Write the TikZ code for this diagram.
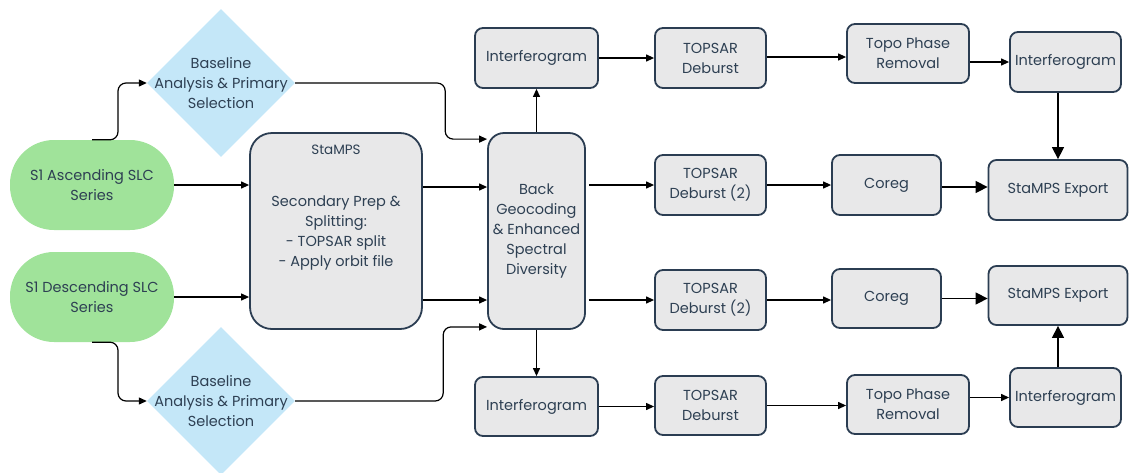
\documentclass[tikz,border=0pt]{standalone}
\usepackage{fontspec}
\setmainfont{Poppins}
\usetikzlibrary{shapes.geometric,arrows.meta,calc}
\definecolor{bordc}{HTML}{2B3D52}
\definecolor{boxf}{HTML}{E8E8E9}
\definecolor{greenf}{HTML}{A0E39A}
\definecolor{bluef}{HTML}{C4E7F8}
\definecolor{txtc}{HTML}{2E4053}
\tikzset{
  lbl/.style={text=txtc, font=\fontsize{14.5}{20}\selectfont, align=center, inner sep=0pt},
  procbox/.style={lbl, rectangle, rounded corners=8pt, draw=bordc, line width=1.8pt, fill=boxf},
  startbox/.style={lbl, rectangle, rounded corners=44pt, fill=greenf, minimum width=164pt, minimum height=90pt},
  decbox/.style={diamond, aspect=1, fill=bluef, minimum size=148pt, inner sep=0pt},
  arr/.style={draw=black, line width=1.2pt, -{Triangle[length=8pt,width=7pt]}},
  bigarr/.style={draw=black, line width=1.4pt, -{Triangle[length=12pt,width=12pt]}},
}
\begin{document}
\begin{tikzpicture}[x=1pt,y=-1pt]
\useasboundingbox (0,0) rectangle (1129,472);
% start nodes
\node[startbox] (asc) at (92,185) {S1 Ascending SLC\\Series};
\node[startbox] (desc) at (92,297) {S1 Descending SLC\\Series};
% diamonds
\node[decbox] (d1) at (221,83) {};
\node[lbl] (d1t) at (221,83) {Baseline\\Analysis \& Primary\\Selection};
\node[decbox] (d2) at (221,401) {};
\node[lbl] (d2t) at (221,401) {Baseline\\Analysis \& Primary\\Selection};
% big boxes
\node[procbox, rounded corners=22pt, minimum width=172pt, minimum height=196pt] (stamps) at (336,231) {};
\node[lbl, font=\fontsize{13.5}{16}\selectfont] (stampst) at (336,150) {StaMPS};
\node[lbl] (stampsb) at (336,233) {Secondary Prep \&\\Splitting:\\- TOPSAR split\\- Apply orbit file};
\node[procbox, rounded corners=16pt, minimum width=97pt, minimum height=196pt] (bg) at (536.5,231) {Back\\Geocoding\\\& Enhanced\\Spectral\\Diversity};
% top row
\node[procbox, minimum width=123pt, minimum height=60pt] (i1) at (536.5,58) {Interferogram};
\node[procbox, minimum width=111pt, minimum height=60pt] (t1) at (710.5,58) {TOPSAR\\Deburst};
\node[procbox, minimum width=122pt, minimum height=59pt] (p1) at (908,53.5) {Topo Phase\\Removal};
\node[procbox, minimum width=111pt, minimum height=60pt] (i2) at (1065.5,62) {Interferogram};
% second row
\node[procbox, minimum width=111pt, minimum height=60pt] (t2) at (710.5,185) {TOPSAR\\Deburst (2)};
\node[procbox, minimum width=109pt, minimum height=60pt] (c1) at (886.5,185) {Coreg};
\node[procbox, minimum width=139pt, minimum height=60pt] (e1) at (1058,190) {StaMPS Export};
% third row
\node[procbox, minimum width=111pt, minimum height=60pt] (t3) at (710.5,300) {TOPSAR\\Deburst (2)};
\node[procbox, minimum width=109pt, minimum height=59pt] (c2) at (886.5,298.5) {Coreg};
\node[procbox, minimum width=139pt, minimum height=59pt] (e2) at (1058,295.5) {StaMPS Export};
% bottom row
\node[procbox, minimum width=123pt, minimum height=59pt] (i3) at (536.5,406.5) {Interferogram};
\node[procbox, minimum width=111pt, minimum height=59pt] (t4) at (710.5,405.5) {TOPSAR\\Deburst};
\node[procbox, minimum width=122pt, minimum height=59pt] (p2) at (908,404.5) {Topo Phase\\Removal};
\node[procbox, minimum width=111pt, minimum height=59pt] (i4) at (1065.5,397.5) {Interferogram};
% connectors
\draw[arr] (asc.east) -- (asc.east -| stamps.west);
\draw[arr] (desc.east) -- (desc.east -| stamps.west);
\draw[arr, rounded corners=8pt] (asc.north) -- ++(26,0) |- (d1.west);
\draw[arr, rounded corners=8pt] (desc.south) -- ++(26,0) |- (d2.west);
\draw[arr, rounded corners=8pt] (d1.east) -- ++(150,0) |- ([yshift=-7pt]bg.north west);
\draw[arr, rounded corners=8pt] (d2.east) -- ++(148,0) |- ([yshift=3pt]bg.south west);
\draw[arr] ([yshift=44pt]stamps.east) -- ([yshift=44pt]bg.west);
\draw[arr] ([yshift=-69pt]stamps.east) -- ([yshift=-69pt]bg.west);
\draw[arr] (bg.north) -- (i1.south);
\draw[arr] (bg.south) -- (i3.north);
\draw[arr] ([xshift=3pt]bg.east |- t2.west) -- (t2.west);
\draw[arr] ([xshift=3pt]bg.east |- t3.west) -- (t3.west);
\draw[arr] (i1.east) -- (t1.west);
\draw[arr] ([yshift=1pt]t1.east) -- ([yshift=1pt]t1.east -| p1.west);
\draw[arr] (i2.west -| p1.east) -- (i2.west);
\draw[bigarr] (e1.north |- i2.south) -- (e1.north);
\draw[arr] (t2.east) -- (t2.east -| c1.west);
\draw[bigarr] ([yshift=-2pt]c1.east) -- ([yshift=-2pt]c1.east -| e1.west);
\draw[arr] (t3.east) -- (t3.east -| c2.west);
\draw[bigarr] (c2.east) -- (c2.east -| e2.west);
\draw[arr] (i3.east) -- (i3.east -| t4.west);
\draw[arr] (t4.east) -- (t4.east -| p2.west);
\draw[arr] (i4.west -| p2.east) -- (i4.west);
\draw[bigarr] (e2.south |- i4.north) -- (e2.south);
\end{tikzpicture}
\end{document}
